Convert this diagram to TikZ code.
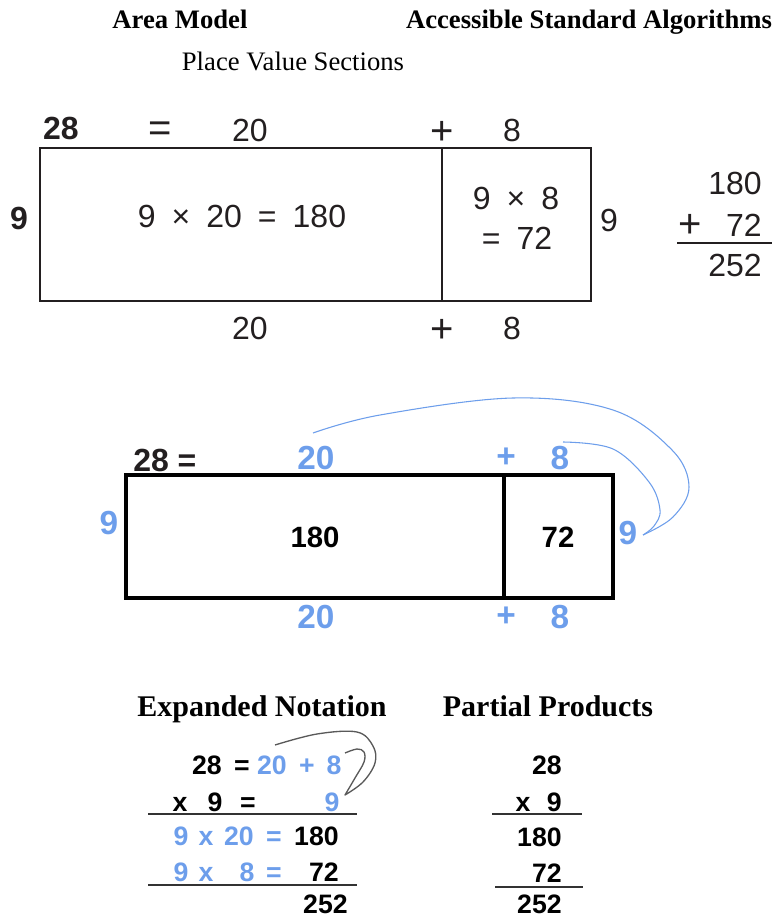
\documentclass[tikz,border=0pt]{standalone}
\usepackage{fontspec}
\setmainfont{Liberation Serif}
\setsansfont{Liberation Sans}
\usepackage{tikz}
\usetikzlibrary{calc}
\definecolor{pvBlue}{RGB}{109,158,235}
\definecolor{pvInk}{RGB}{35,31,32}
\newcommand\pvgap{\hspace{.5em}}
\tikzset{
 pv head/.style={font=\fontsize{20}{24}\selectfont\bfseries,inner sep=0pt,anchor=base},
 pv head wide/.style={pv head,font=\fontsize{22.5}{26}\selectfont\bfseries},
 pv sub/.style={font=\fontsize{20}{24}\selectfont,inner sep=0pt,anchor=base},
 pv text/.style={font=\sffamily\fontsize{24}{28}\selectfont,text=pvInk,inner sep=0pt},
 pv sign/.style={pv text,font=\sffamily\fontsize{30}{34}\selectfont},
 pv bold/.style={font=\sffamily\bfseries\fontsize{24}{28}\selectfont,text=pvInk,inner sep=0pt},
 pv blue/.style={font=\sffamily\bfseries\fontsize{25}{30}\selectfont,text=pvBlue,inner sep=0pt},
 pv cell/.style={font=\sffamily\bfseries\fontsize{22}{26}\selectfont,inner sep=0pt},
 pv small/.style={font=\sffamily\bfseries\fontsize{20}{24}\selectfont,inner sep=0pt,anchor=base},
 pv frame/.style={line width=2pt,draw=pvInk},
 pv divider/.style={line width=1.4pt,draw=pvInk},
 pv heavy frame/.style={line width=2.6pt,draw=black},
 pv rule/.style={line width=1.6pt,draw=black!80},
 pv curve/.style={pvBlue,line width=.8pt},
 pv hook/.style={black!65,line width=1pt,line join=round}
}

\begin{document}
\begin{tikzpicture}[x=.75pt,y=-.75pt]
 \useasboundingbox (0,0) rectangle (772,917);
 % headings
 \node[pv head] (hArea) at (180,29) {Area Model};
 \node[pv head] (hAlg) at (589,29) {Accessible Standard Algorithms};
 \node[pv sub] (hPlace) at (293,70) {Place Value Sections};
 \node[pv head wide] (hExp) at (262,716) {Expanded Notation};
 \node[pv head wide] (hPart) at (548,716) {Partial Products};

 % area model, printed
 \draw[pv frame] (40,148) rectangle (591,301);
 \draw[pv divider] (442,148) -- (442,301);
 \node[pv bold] (a28) at (61,128) {28};
 \node[pv bold] (aL9) at (19,218) {9};
 \node[pv text] (aR9) at (609,220) {9};
 \foreach \y/\s in {130/t,328/b}{
   \node[pv text] (a20\s) at (250,\y) {20};
   \node[pv sign] (aPl\s) at (442,\y+3) {+};
   \node[pv text] (a8\s) at (512,\y) {8};
 }
 \node[pv sign] (aEq) at (160,132) {=};
 \node[pv text] (aBig) at (242,216) {9\pvgap×\pvgap20\pvgap=\pvgap180};
 \node[pv text] (aSmA) at (516,198) {9\pvgap×\pvgap8};
 \node[pv text] (aSmB) at (517,238) {=\pvgap72};
 % column sum
 \node[pv text,anchor=east] (s180) at (762,183) {180};
 \node[pv sign] (sPl) at (690,226) {+};
 \node[pv text,anchor=east] (s72) at (762,225) {72};
 \node[pv text,anchor=east] (s252) at (762,265) {252};
 \coordinate (sRuleL) at (677,243);
 \coordinate (sRuleR) at (772,243);
 \draw[pv divider] (sRuleL) -- (sRuleR);

 % area model, hand drawn
 \draw[pv heavy frame] (126,475) rectangle (613,598);
 \draw[pv heavy frame] (504,475) -- (504,598);
 \node[pv bold,anchor=west] (m28) at (133,460) {28 =};
 \node[pv blue] (mL9) at (109,523) {9};
 \node[pv blue] (mR9) at (628,533) {9};
 \foreach \y/\s in {458/t,617/b}{
   \node[pv blue] (m20\s) at (316,\y) {20};
   \node[pv blue] (mPl\s) at (506,\y) {+};
   \node[pv blue] (m8\s) at (560,\y) {8};
 }
 \node[pv cell] (m180) at (315,537) {180};
 \node[pv cell] (m72) at (558,537) {72};
 \coordinate (mArcA) at (313,433);
 \coordinate (mArcB) at (563,442);
 \coordinate (mArcEnd) at (643,535);
 \draw[pv curve] plot[smooth,tension=.6] coordinates
   {(mArcA) (380,415) (513,398) (613,410) (672,450) (689,487) (673,517) (mArcEnd)};
 \draw[pv curve] plot[smooth,tension=.6] coordinates
   {(mArcB) (613,449) (649,482) (660,510) (654,526) (mArcEnd)};

 % expanded notation
 \foreach \x/\t/\c [count=\k] in {207/28/black,242/=/black,272/20/pvBlue,307/+/pvBlue,334/8/pvBlue}
   \node[pv small,text=\c] (eA\k) at (\x,774) {\t};
 \foreach \x/\t/\c [count=\k] in {180/x/black,215/9/black,248/=/black,332/9/pvBlue}
   \node[pv small,text=\c] (eB\k) at (\x,811) {\t};
 \foreach \x/\t [count=\k] in {181/9,206/x,239/20,274/=}
   \node[pv small,text=pvBlue] (eC\k) at (\x,845) {\t};
 \foreach \x/\t [count=\k] in {181/9,206/x,247/8,274/=}
   \node[pv small,text=pvBlue] (eD\k) at (\x,881) {\t};
 \node[pv small,anchor=base east] (eC180) at (339,845) {180};
 \node[pv small,anchor=base east] (eD72) at (339,881) {72};
 \node[pv small,anchor=base east] (e252) at (348,913) {252};
 \coordinate (eRuleA) at (148,814);
 \coordinate (eRuleB) at (148,885);
 \draw[pv rule] (eRuleA) -- ++(209,0);
 \draw[pv rule] (eRuleB) -- ++(209,0);
 \draw[pv hook] plot[smooth,tension=.6] coordinates
   {(275,745) (317,734) (357,732) (373,746) (375,763) (363,782) (345,795)}
   -- plot[smooth,tension=.6] coordinates {(345,795) (355,778) (364,762) (364,752) (357,749) (345,753)};

 % partial products
 \node[pv small,anchor=base east] (p28) at (562,774) {28};
 \node[pv small] (pX) at (523,811) {x};
 \node[pv small,anchor=base east] (p9) at (562,811) {9};
 \node[pv small,anchor=base east] (p180) at (562,846) {180};
 \node[pv small,anchor=base east] (p72) at (562,882) {72};
 \node[pv small,anchor=base east] (p252) at (562,913) {252};
 \coordinate (pRuleA) at (492,814);
 \coordinate (pRuleB) at (495,887);
 \draw[pv rule] (pRuleA) -- ++(90,0);
 \draw[pv rule] (pRuleB) -- ++(88,0);
\end{tikzpicture}
\end{document}
